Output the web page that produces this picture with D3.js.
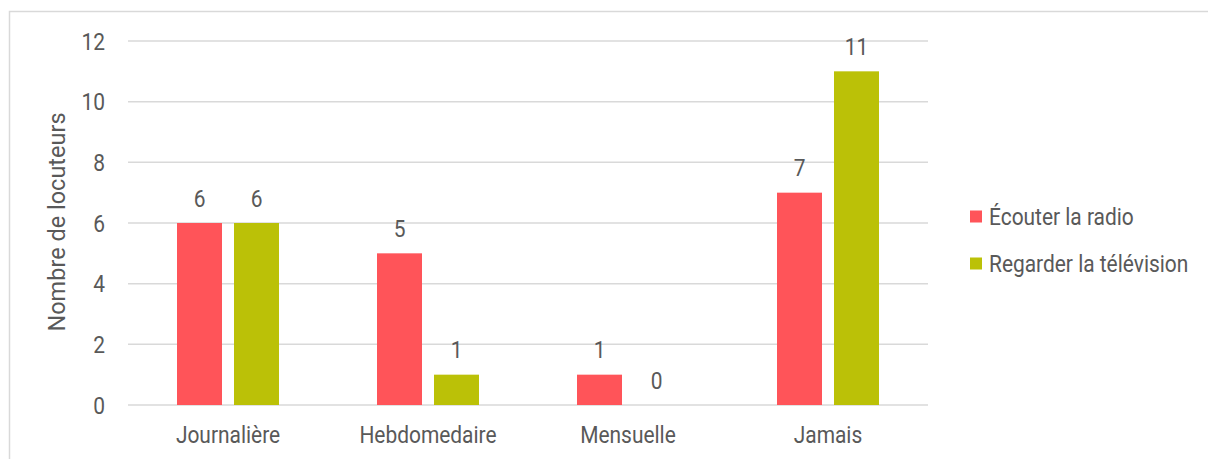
<!DOCTYPE html>
<html><head><meta charset="utf-8">
<script src="https://cdn.jsdelivr.net/npm/d3@7/dist/d3.min.js"></script>
<style>body{margin:0;background:#fff}svg{display:block;font-family:Roboto,sans-serif}</style>
</head><body><svg id="c" width="1208" height="459"></svg>
<script>
const categories = ["Journalière","Hebdomedaire","Mensuelle","Jamais"];
const seriesNames = ["Écouter la radio","Regarder la télévision"];
const radio = [6,5,1,7];
const television = [6,1,0,11];
const yTicks = [0,2,4,6,8,10,12];
const colors = ["#FF5459","#BBC107"];

const SX = 0.91, FS = "23px";
const svg = d3.select("#c");
const textColor = "#595959";
svg.append("rect").attr("x",9.5).attr("y",11.5).attr("width",1210).attr("height",460)
  .attr("fill","none").attr("stroke","#d9d9d9").attr("stroke-width",1.5);

const x0 = d3.scaleBand().domain(categories).range([128,928]);
const x1 = d3.scaleBand().domain([0,1]).range([-51,51]).paddingInner(12/57);
const y = d3.scaleLinear().domain([0,12]).range([405,41]);

const grid = svg.append("g");
yTicks.forEach(t=>{
  grid.append("line").attr("x1",128).attr("x2",928).attr("y1",y(t)).attr("y2",y(t))
    .attr("stroke","#d9d9d9").attr("stroke-width",1.5);
});
const yAxis = d3.axisLeft(y).tickValues(yTicks).tickSize(0).tickPadding(0);
const ya = svg.append("g").attr("transform","translate(105,0)").call(yAxis);
ya.select(".domain").remove();
ya.selectAll("text").attr("x",0).attr("fill",textColor).style("font-size",FS).style("font-family","Roboto")
  .attr("dy","0.35em").attr("transform",`scale(${SX},1)`);

const xAxis = d3.axisBottom(x0).tickSize(0).tickPadding(0);
const xa = svg.append("g").attr("transform","translate(0,443)").call(xAxis);
xa.select(".domain").remove();
xa.selectAll("text").attr("y",0).attr("dy",0).attr("fill",textColor).style("font-size",FS).style("font-family","Roboto")
  .attr("transform",`scale(${SX},1)`);

const data = [radio, television];
data.forEach((vals,si)=>{
  const g = svg.append("g");
  vals.forEach((v,i)=>{
    const cx = x0(categories[i]) + x0.bandwidth()/2;
    const bx = cx + x1(si);
    g.append("rect").attr("x",bx).attr("y",y(v)).attr("width",x1.bandwidth()).attr("height",y(0)-y(v))
      .attr("fill",colors[si]);
    g.append("text").attr("transform",`translate(${bx + x1.bandwidth()/2},${y(v)-16.5}) scale(${SX},1)`)
      .attr("text-anchor","middle").attr("fill",textColor).style("font-size",FS).text(v);
  });
});

svg.append("text").attr("transform","translate(65,222) rotate(-90)").attr("text-anchor","middle")
  .attr("fill",textColor).style("font-size","23.5px").text("Nombre de locuteurs");

const leg = svg.append("g");
seriesNames.forEach((n,i)=>{
  const ly = 216.5 + i*47;
  leg.append("rect").attr("x",970).attr("y",ly-6).attr("width",12).attr("height",12).attr("fill",colors[i]);
  leg.append("text").attr("transform",`translate(989,${ly}) scale(${SX},1)`).attr("dy","0.35em").attr("fill",textColor)
    .style("font-size",FS).text(n);
});
</script></body></html>
